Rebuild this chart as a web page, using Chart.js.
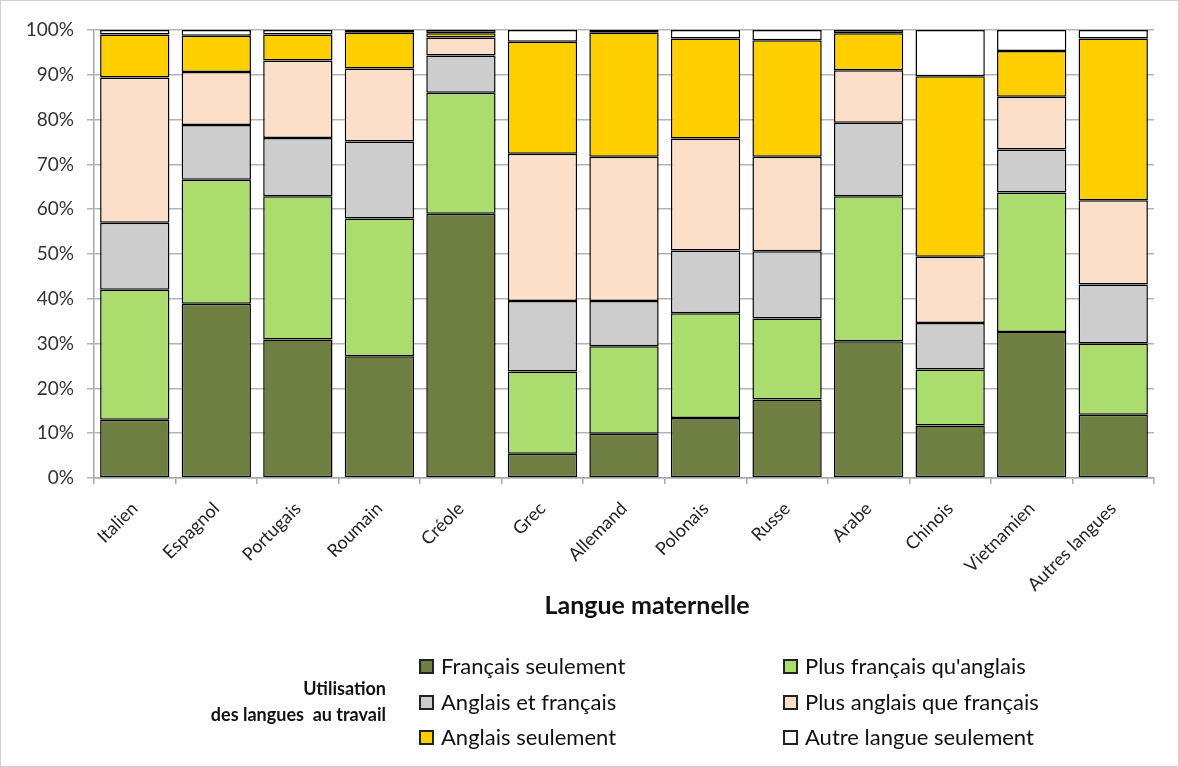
<!DOCTYPE html>
<html lang="fr">
<head>
<meta charset="utf-8">
<title>Utilisation des langues au travail selon la langue maternelle</title>
<script src="https://cdn.jsdelivr.net/npm/chart.js@4/dist/chart.umd.min.js"></script>
<style>
  html, body { margin: 0; padding: 0; background: #fff; }
  #wrap { position: relative; width: 1179px; height: 767px; box-sizing: border-box; border: 1px solid #d0d0d0; }
  #myChart { position: absolute; left: 0; top: 0; }
  .x-title { position: absolute; left: 446px; width: 400px; top: 588px; text-align: center; font: bold 25px Lato, "Liberation Sans", sans-serif; line-height: 30px; color: #111; }
  .leg-title { position: absolute; right: 792px; top: 674px; text-align: right; font: bold 18px Lato, "Liberation Sans", sans-serif; line-height: 26px; color: #111; }
  .leg-item { position: absolute; font: 22px Lato, "Liberation Sans", sans-serif; color: #111; white-space: nowrap; line-height: 24px; }
  .leg-item span.box { display: inline-block; width: 11px; height: 11px; border: 2px solid #222; margin-right: 7px; vertical-align: 0px; }
</style>
</head>
<body>
<div id="wrap">
  <canvas id="myChart" width="1179" height="767"></canvas>
  <div class="x-title">Langue maternelle</div>
  <div class="leg-title">Utilisation<br>des langues&nbsp; au travail</div>
  <div id="legend"></div>
</div>
<script>
var langues = ["Italien","Espagnol","Portugais","Roumain","Créole","Grec","Allemand","Polonais","Russe","Arabe","Chinois","Vietnamien","Autres langues"];

var francais_seul   = [13.0, 38.9, 30.9, 27.2, 59.0,  5.4,  9.9, 13.4, 17.5, 30.5, 11.7, 32.6, 14.1];
var plus_francais   = [29.0, 27.7, 32.0, 30.7, 27.0, 18.4, 19.5, 23.4, 18.1, 32.4, 12.5, 31.1, 15.9];
var anglais_francais= [15.0, 12.2, 13.0, 17.2,  8.3, 15.7, 10.1, 14.0, 15.0, 16.4, 10.4,  9.6, 13.2];
var plus_anglais    = [32.4, 11.8, 17.3, 16.3,  4.0, 32.9, 32.2, 25.0, 21.1, 11.7, 14.8, 11.8, 18.8];
var anglais_seul    = [ 9.6,  8.1,  5.8,  8.0,  1.0, 25.0, 27.7, 22.3, 26.0,  8.3, 40.3, 10.2, 36.1];
var autre_langue    = [ 1.0,  1.3,  1.0,  0.6,  0.7,  2.6,  0.6,  1.9,  2.3,  0.7, 10.3,  4.7,  1.9];

var y_ticks = [0,10,20,30,40,50,60,70,80,90,100];

var series = [
    { label: "Français seulement",         data: francais_seul,    color: "#6F7F42" },
    { label: "Plus français qu'anglais",   data: plus_francais,    color: "#AADC6E" },
    { label: "Anglais et français",        data: anglais_francais, color: "#CDCDCD" },
    { label: "Plus anglais que français",  data: plus_anglais,     color: "#FBDFC8" },
    { label: "Anglais seulement",          data: anglais_seul,     color: "#FFCF00" },
    { label: "Autre langue seulement",     data: autre_langue,     color: "#FFFFFF" }
];

var font = "Lato, 'Liberation Sans', sans-serif";

var ctx = document.getElementById("myChart").getContext("2d");
var barChart = new Chart(ctx, {
    type: "bar",
    data: {
        labels: langues,
        datasets: series.map(function (s) {
            return {
                label: s.label,
                data: s.data,
                backgroundColor: s.color,
                borderColor: "#000",
                borderWidth: 1.5,
                borderSkipped: false,
                inflateAmount: 0,
                barPercentage: 0.85,
                categoryPercentage: 1.0
            };
        })
    },
    options: {
        responsive: false,
        animation: false,
        layout: { padding: { top: 29, right: 26, bottom: 147, left: 0 } },
        plugins: {
            legend: { display: false },
            tooltip: { enabled: false }
        },
        scales: {
            x: {
                stacked: true,
                grid: { display: true, offset: true, drawOnChartArea: false, drawTicks: true, tickLength: 6, color: "#a8a8a8", lineWidth: 1.5 },
                border: { color: "#a8a8a8", width: 1.5 },
                ticks: { maxRotation: 45, minRotation: 45, padding: 14, color: "#222", font: { family: font, size: 18 } },
                afterFit: function (scale) { scale.height = 143; }
            },
            y: {
                stacked: true,
                min: 0,
                max: 100,
                afterBuildTicks: function (scale) {
                    scale.ticks = y_ticks.map(function (v) { return { value: v }; });
                },
                grid: { color: "#b4b4b4", lineWidth: 1.5, tickLength: 7 },
                border: { color: "#a8a8a8", width: 1.5 },
                ticks: {
                    padding: 13,
                    color: "#333",
                    font: { family: font, size: 19 },
                    callback: function (v) { return v + "%"; }
                },
                afterFit: function (scale) { scale.width = 93; }
            }
        }
    }
});

// two-column legend under the axis title
var legend = document.getElementById("legend");
var cols = [418, 782];
var rows = [653, 689, 724];
series.forEach(function (s, i) {
    var item = document.createElement("div");
    item.className = "leg-item";
    item.style.left = cols[i % 2] + "px";
    item.style.top = rows[Math.floor(i / 2)] + "px";
    item.innerHTML = '<span class="box" style="background:' + s.color + '"></span>' + s.label;
    legend.appendChild(item);
});
</script>
</body>
</html>
